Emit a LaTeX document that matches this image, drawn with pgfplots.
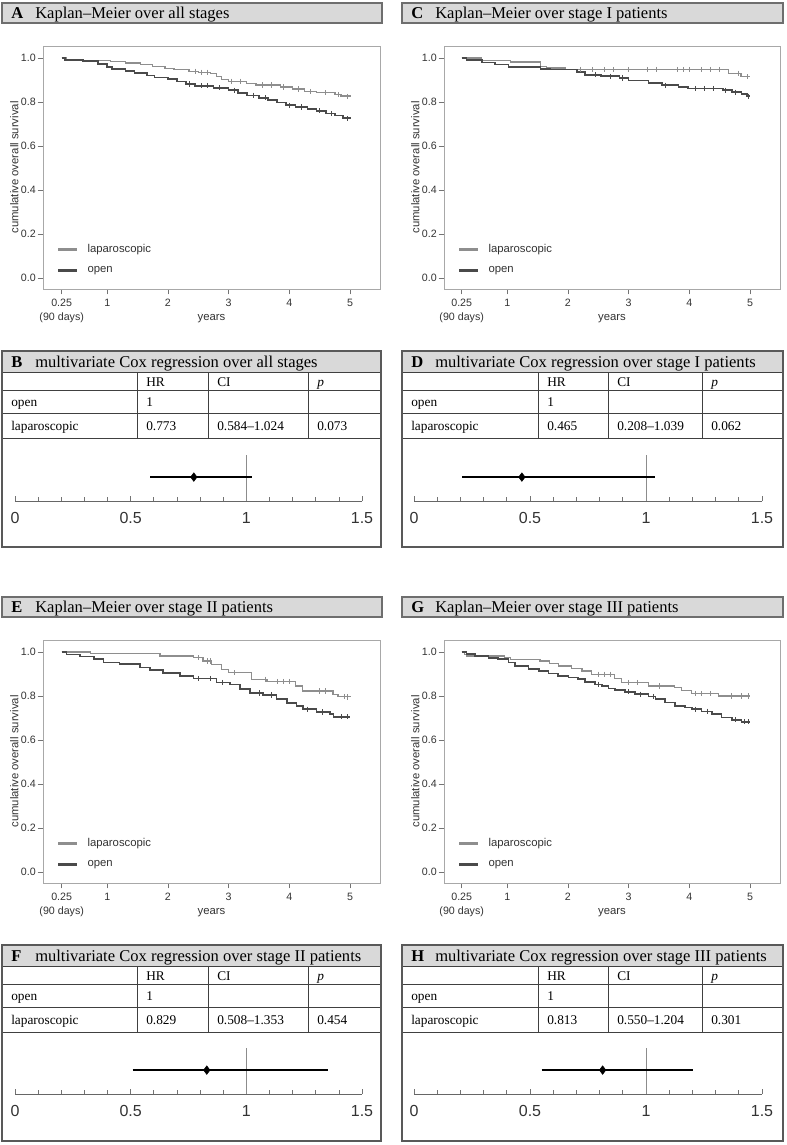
\documentclass[border=0pt]{standalone}
\usepackage{fontspec}
\setmainfont{Liberation Serif}
\newfontfamily\arial{Liberation Sans}
\usepackage{pgfplots}
\pgfplotsset{compat=1.18}
\definecolor{lapc}{HTML}{8E8E8E}
\definecolor{openc}{HTML}{4A4A4A}
\definecolor{framec}{HTML}{A8A8A8}
\definecolor{hdrfill}{HTML}{D9D9D9}
\definecolor{hdrdraw}{HTML}{6E6E6E}
\definecolor{txtc}{HTML}{333333}
\newcommand\px[2]{({(#1)*0.75pt},{-(#2)*0.75pt})}
\newcommand\kmfont{\arial\fontsize{8.5}{10}\selectfont}
\newcommand\kmtick{\arial\fontsize{8}{10.5}\selectfont}
\newcommand\tfont{\fontsize{10}{12}\selectfont}
\newcommand\hfont{\fontsize{12.4}{14}\selectfont}
\tikzset{tabline/.style={draw=black!75, line width=0.7pt},
         tabouter/.style={draw=black!65, line width=1.1pt}}
\pgfplotsset{
 km/.style={
  scale only axis, height=182.25pt, anchor=south west,
  ymin=-0.05, ymax=1.0545, xmax=5.494,
  axis line style={framec, line width=0.6pt},
  tick align=outside, xtick pos=bottom, ytick pos=left,
  major tick length=4pt,
  every tick/.style={black!55, line width=0.5pt},
  tick label style={font=\kmtick, text=txtc},
  xtick={0.25,1,2,3,4,5},
  xticklabels={{0.25\\(90 days)},1,2,3,4,5},
  xticklabel style={align=center},
  yticklabel style={inner sep=1.2pt},
  ytick={0,0.2,0.4,0.6,0.8,1},
  yticklabels={0.0,0.2,0.4,0.6,0.8,1.0},
  xlabel={years}, ylabel={cumulative overall survival},
  every axis x label/.style={at={(axis description cs:0.5,0)}, anchor=center, yshift=-22.5pt, font=\kmfont, text=txtc},
  every axis y label/.style={at={(axis description cs:-0.085,0.5)}, rotate=90, anchor=center, font=\kmfont, text=txtc},
  legend style={at={(axis description cs:0.036,0.2)}, anchor=north west, draw=none, fill=none, font=\kmfont, text=txtc, row sep=4.5pt, inner sep=1pt},
  legend cell align=left,
  legend image code/.code={\draw[#1, line width=2.2pt] (0pt,0pt) -- (14pt,0pt); \path[draw=none] (0pt,0pt) -- (20pt,0pt);},
 },
 lap/.style={const plot, lapc, line width=1.0pt},
 opn/.style={const plot, openc, line width=1.25pt},
 lapcens/.style={only marks, mark=|, mark size=2pt, lapc, mark options={line width=0.5pt}, forget plot},
 opencens/.style={only marks, mark=|, mark size=2pt, openc, mark options={line width=0.5pt}, forget plot},
 forest/.style={
  scale only axis, height=34.5pt, anchor=south west,
  xmin=0, xmax=1.5, ymin=0, ymax=1,
  axis x line*=bottom, axis y line=none,
  axis line style={black!60, line width=0.6pt},
  xtick={0,0.5,1,1.5}, xticklabels={0,0.5,1,1.5},
  minor xtick={0.1,0.2,0.3,0.4,0.6,0.7,0.8,0.9,1.1,1.2,1.3,1.4},
  tick align=inside, major tick length=3.75pt, minor tick length=3pt,
  every tick/.style={black!55, line width=0.5pt},
  xticklabel style={font=\arial\fontsize{12}{14}\selectfont, text=txtc, anchor=center, yshift=-13pt},
  clip=false,
 },
 vline/.style={black!45, line width=0.5pt},
 ci/.style={black, line width=1.5pt},
 hr/.style={only marks, mark=diamond*, mark size=3.2pt, black},
}
\newcommand\kmhead[5]{%
 \filldraw[fill=hdrfill, draw=hdrdraw, line width=1.1pt] \px{#1}{#3} rectangle \px{#2}{#3+20};
 \node[anchor=base west, inner sep=0pt, font=\hfont] at \px{#1+9}{#3+15.5} {\textbf{#4}};
 \node[anchor=base west, inner sep=0pt, font=\hfont] at \px{#1+33}{#3+15.5} {#5};
}
\newcommand\coxtable[9]{%
 \fill[hdrfill] \px{#1}{#6} rectangle \px{#2}{#6+21};
 \foreach \yy in {21,39,62,87} {\draw[tabline] \px{#1}{#6+\yy} -- \px{#2}{#6+\yy};}
 \foreach \dd in {#3,#4,#5} {\draw[tabline] \px{\dd}{#6+21} -- \px{\dd}{#6+87};}
 \draw[tabouter] \px{#1}{#6} rectangle \px{#2}{#9};
 \node[anchor=base west, inner sep=0pt, font=\hfont] at \px{#1+9}{#6+16} {\textbf{#7}};
 \node[anchor=base west, inner sep=0pt, font=\hfont] at \px{#1+33}{#6+16} {#8};
 \node[anchor=base west, inner sep=0pt, font=\tfont] at \px{#3+9}{#6+35.7} {HR};
 \node[anchor=base west, inner sep=0pt, font=\tfont] at \px{#4+9}{#6+35.7} {CI};
 \node[anchor=base west, inner sep=0pt, font=\tfont] at \px{#5+9}{#6+35.7} {\textit{p}};
 \node[anchor=base west, inner sep=0pt, font=\tfont] at \px{#1+9}{#6+55.7} {open};
 \node[anchor=base west, inner sep=0pt, font=\tfont] at \px{#3+9}{#6+55.7} {1};
 \node[anchor=base west, inner sep=0pt, font=\tfont] at \px{#1+9}{#6+79.7} {laparoscopic};
 \node[anchor=base west, inner sep=0pt, font=\tfont] at \px{#3+9}{#6+79.7} {\vHR};
 \node[anchor=base west, inner sep=0pt, font=\tfont] at \px{#4+9}{#6+79.7} {\vCI};
 \node[anchor=base west, inner sep=0pt, font=\tfont] at \px{#5+9}{#6+79.7} {\vP};
}
\begin{document}
\begin{tikzpicture}
\useasboundingbox \px{0}{0} rectangle \px{787}{1145};

% ---------------- headers ----------------
\kmhead{2}{382}{3}{A}{Kaplan–Meier over all stages}
\kmhead{402}{783}{3}{C}{Kaplan–Meier over stage I patients}
\kmhead{2}{382}{597}{E}{Kaplan–Meier over stage II patients}
\kmhead{402}{783}{597}{G}{Kaplan–Meier over stage III patients}

% ---------------- A ----------------
\begin{axis}[km, at={(32.25pt,-216.75pt)}, width=252.75pt, xmin=-0.058]
\addplot[lap] coordinates {(0.25,1.0) (0.33,0.99) (1.05,0.985) (1.3,0.977) (1.55,0.97) (1.75,0.962) (1.95,0.953) (2.1,0.947) (2.35,0.94) (2.5,0.935) (2.7,0.929) (2.8,0.915) (2.88,0.903) (3.0,0.894) (3.3,0.885) (3.45,0.877) (3.85,0.868) (4.05,0.859) (4.25,0.848) (4.45,0.842) (4.75,0.833) (4.85,0.827) (5.0,0.826)};
\addplot[opn] coordinates {(0.25,1.0) (0.3,0.992) (0.6,0.985) (0.85,0.974) (1.0,0.96) (1.08,0.95) (1.3,0.94) (1.45,0.932) (1.65,0.92) (1.78,0.912) (2.0,0.903) (2.15,0.893) (2.3,0.882) (2.45,0.874) (2.75,0.865) (3.0,0.853) (3.15,0.84) (3.3,0.83) (3.5,0.819) (3.65,0.81) (3.8,0.797) (3.95,0.785) (4.1,0.777) (4.3,0.768) (4.45,0.76) (4.6,0.748) (4.75,0.738) (4.88,0.728) (5.0,0.724)};
\addplot[lapcens] coordinates {(2.45,0.94) (2.55,0.935) (2.65,0.935) (3.05,0.894) (3.2,0.894) (3.55,0.877) (3.7,0.877) (3.9,0.868) (4.15,0.859) (4.35,0.848) (4.6,0.842) (4.8,0.833) (4.95,0.826)};
\addplot[opencens] coordinates {(2.35,0.882) (2.55,0.874) (2.65,0.874) (2.85,0.865) (3.1,0.853) (3.4,0.83) (3.6,0.819) (4.0,0.785) (4.2,0.777) (4.5,0.76) (4.7,0.748) (4.95,0.724)};
\legend{laparoscopic,open}
\end{axis}

% ---------------- C ----------------
\begin{axis}[km, at={(333pt,-216.75pt)}, width=252pt, xmin=-0.042]
\addplot[lap] coordinates {(0.25,1.0) (0.58,0.99) (1.05,0.982) (1.55,0.962) (1.65,0.955) (1.95,0.947) (4.65,0.93) (4.85,0.915) (5.0,0.915)};
\addplot[opn] coordinates {(0.25,1.0) (0.33,0.992) (0.58,0.98) (0.8,0.97) (1.02,0.958) (1.55,0.95) (1.7,0.947) (2.15,0.935) (2.28,0.924) (2.55,0.917) (2.85,0.909) (3.0,0.898) (3.33,0.886) (3.55,0.876) (3.82,0.868) (3.98,0.861) (4.55,0.853) (4.7,0.844) (4.86,0.835) (4.95,0.826) (5.0,0.826)};
\addplot[lapcens] coordinates {(2.2,0.947) (2.4,0.947) (2.6,0.947) (2.75,0.947) (3.0,0.947) (3.3,0.947) (3.45,0.947) (3.8,0.947) (3.9,0.947) (4.0,0.947) (4.2,0.947) (4.35,0.947) (4.5,0.947) (4.8,0.93) (4.95,0.915)};
\addplot[opencens] coordinates {(2.45,0.924) (2.7,0.917) (2.9,0.909) (3.6,0.876) (4.1,0.861) (4.25,0.861) (4.4,0.861) (4.6,0.853) (4.75,0.844) (4.98,0.826)};
\legend{laparoscopic,open}
\end{axis}

% ---------------- E ----------------
\begin{axis}[km, at={(32.25pt,-662.25pt)}, width=252.75pt, xmin=-0.058]
\addplot[lap] coordinates {(0.25,1.0) (0.72,0.993) (1.87,0.982) (2.42,0.974) (2.58,0.959) (2.72,0.944) (2.88,0.921) (3.0,0.906) (3.38,0.876) (3.63,0.866) (4.1,0.846) (4.22,0.823) (4.72,0.808) (4.8,0.798) (5.0,0.795)};
\addplot[opn] coordinates {(0.25,1.0) (0.33,0.989) (0.55,0.979) (0.78,0.967) (0.94,0.952) (1.2,0.944) (1.54,0.929) (1.71,0.917) (1.92,0.906) (2.2,0.891) (2.42,0.879) (2.8,0.861) (3.02,0.853) (3.19,0.831) (3.35,0.813) (3.57,0.804) (3.79,0.786) (3.96,0.767) (4.12,0.755) (4.23,0.740) (4.45,0.728) (4.67,0.718) (4.73,0.706) (5.0,0.706)};
\addplot[lapcens] coordinates {(2.5,0.974) (2.65,0.959) (2.7,0.959) (3.1,0.906) (3.6,0.876) (3.8,0.866) (3.9,0.866) (4.0,0.866) (4.5,0.823) (4.6,0.823) (4.9,0.798) (4.95,0.795)};
\addplot[opencens] coordinates {(2.5,0.879) (2.7,0.879) (2.9,0.861) (3.5,0.813) (3.7,0.804) (4.3,0.74) (4.55,0.728) (4.85,0.706) (4.95,0.706)};
\legend{laparoscopic,open}
\end{axis}

% ---------------- G ----------------
\begin{axis}[km, at={(333pt,-662.25pt)}, width=252pt, xmin=-0.042]
\addplot[lap] coordinates {(0.25,1.0) (0.3,0.989) (0.33,0.982) (0.96,0.975) (1.05,0.965) (1.54,0.959) (1.7,0.949) (1.84,0.937) (2.06,0.924) (2.23,0.914) (2.39,0.899) (2.77,0.879) (2.88,0.861) (3.33,0.846) (3.76,0.838) (3.87,0.826) (4.04,0.811) (4.48,0.80) (5.0,0.80)};
\addplot[opn] coordinates {(0.25,1.0) (0.33,0.992) (0.47,0.982) (0.69,0.974) (0.85,0.967) (1.02,0.952) (1.13,0.937) (1.35,0.924) (1.52,0.914) (1.68,0.902) (1.84,0.891) (2.01,0.884) (2.17,0.876) (2.28,0.864) (2.45,0.853) (2.56,0.846) (2.67,0.834) (2.78,0.826) (2.94,0.819) (3.11,0.808) (3.33,0.798) (3.44,0.785) (3.6,0.770) (3.76,0.755) (3.93,0.748) (4.04,0.740) (4.2,0.730) (4.37,0.718) (4.53,0.702) (4.7,0.692) (4.86,0.683) (5.0,0.683)};
\addplot[lapcens] coordinates {(2.5,0.899) (2.6,0.899) (2.7,0.899) (3.0,0.861) (3.15,0.861) (3.5,0.846) (4.1,0.811) (4.2,0.811) (4.35,0.811) (4.7,0.80) (4.85,0.80) (4.97,0.80)};
\addplot[opencens] coordinates {(2.5,0.853) (3.0,0.819) (3.2,0.808) (3.4,0.798) (4.1,0.74) (4.3,0.73) (4.75,0.692) (4.9,0.683) (4.97,0.683)};
\legend{laparoscopic,open}
\end{axis}

% ---------------- tables ----------------
\def\vHR{0.773}\def\vCI{0.584–1.024}\def\vP{0.073}
\coxtable{2}{381}{137}{208}{308}{351}{B}{multivariate Cox regression over all stages}{547}
\def\vHR{0.465}\def\vCI{0.208–1.039}\def\vP{0.062}
\coxtable{402}{783}{538}{608}{702}{351}{D}{multivariate Cox regression over stage I patients}{547}
\def\vHR{0.829}\def\vCI{0.508–1.353}\def\vP{0.454}
\coxtable{2}{381}{137}{208}{308}{945}{F}{multivariate Cox regression over stage II patients}{1141}
\def\vHR{0.813}\def\vCI{0.550–1.204}\def\vP{0.301}
\coxtable{402}{783}{538}{608}{702}{945}{H}{multivariate Cox regression over stage III patients}{1141}

% ---------------- forest plots ----------------
\begin{axis}[forest, at={(11.25pt,-375.75pt)}, width=260.25pt]
\addplot[vline] coordinates {(1,0) (1,1)};
\addplot[ci] coordinates {(0.584,0.52) (1.024,0.52)};
\addplot[hr] coordinates {(0.773,0.52)};
\end{axis}
\begin{axis}[forest, at={(310.5pt,-375.75pt)}, width=261pt]
\addplot[vline] coordinates {(1,0) (1,1)};
\addplot[ci] coordinates {(0.208,0.52) (1.039,0.52)};
\addplot[hr] coordinates {(0.465,0.52)};
\end{axis}
\begin{axis}[forest, at={(11.25pt,-820.5pt)}, width=260.25pt]
\addplot[vline] coordinates {(1,0) (1,1)};
\addplot[ci] coordinates {(0.508,0.52) (1.353,0.52)};
\addplot[hr] coordinates {(0.829,0.52)};
\end{axis}
\begin{axis}[forest, at={(310.5pt,-820.5pt)}, width=261pt]
\addplot[vline] coordinates {(1,0) (1,1)};
\addplot[ci] coordinates {(0.550,0.52) (1.204,0.52)};
\addplot[hr] coordinates {(0.813,0.52)};
\end{axis}
\end{tikzpicture}
\end{document}
